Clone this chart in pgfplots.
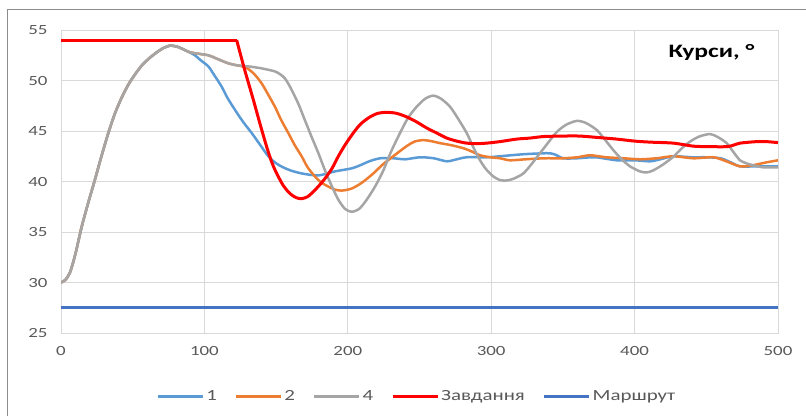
\documentclass[border=0pt]{standalone}
\usepackage{pgfplots}
\pgfplotsset{compat=1.18}
\usepackage{fontspec}
\setmainfont{Carlito}[FakeStretch=1.35]
\definecolor{cBlue}{HTML}{5B9BD5}
\definecolor{cOrange}{HTML}{ED7D31}
\definecolor{cGray}{HTML}{A5A5A5}
\definecolor{cRed}{HTML}{FF0000}
\definecolor{cRoute}{HTML}{4472C4}
\definecolor{gridgray}{HTML}{D9D9D9}
\definecolor{tickgray}{HTML}{595959}
\definecolor{framegray}{HTML}{8C8C8C}
\begin{document}
\begin{tikzpicture}
\useasboundingbox (0pt,0pt) rectangle (806pt,-416pt);
\draw[framegray, line width=1pt] (7.5pt,-416pt) -- (7.5pt,-9.5pt) -- (806pt,-9.5pt);
\begin{axis}[
  at={(61pt,-333pt)}, anchor=south west,
  scale only axis, width=717pt, height=303pt,
  xmin=0, xmax=500, ymin=25, ymax=55,
  xtick distance=100, ytick distance=5,
  grid=major,
  major grid style={gridgray, line width=1pt},
  axis line style={gridgray, line width=1pt},
  major tick length=0pt,
  /pgf/number format/assume math mode=true,
  tick label style={font=\fontsize{14}{16}\selectfont, text=tickgray},
  xticklabel style={yshift=-10pt},
  yticklabel style={xshift=-10pt},
  legend columns=-1,
  legend style={draw=none, fill=none, at={(0.4965,-0.21)}, anchor=center,
    font=\fontsize{15.5}{17}\selectfont, text=tickgray,
    nodes={inner sep=2pt},
    /tikz/every even column/.append style={column sep=16pt}},
  legend image code/.code={\draw[#1] (0pt,0pt) -- (45pt,0pt);},
  every axis plot/.append style={smooth, tension=0.45, line width=2.5pt, line join=round},
]
\addplot[cBlue] coordinates {
(0,30) (3,30.25) (6.3,31.0) (10,32.8) (14.4,35.5) (19,37.9) (23.7,40.2) (28,42.4) (33,44.8) (37.5,46.7) (42.3,48.3) (47,49.6) (51.6,50.6) (57,51.6) (63.2,52.4) (70,53.1) (76,53.45) (82,53.3) (88.8,52.85)
(93.4,52.5) (97,52.05) (102.7,51.4) (107,50.5) (112,49.4) (116,48.3) (121.3,47.1) (127,45.9) (133,44.8) (139,43.6) (144.6,42.5) (150,41.8) (155,41.4) (160,41.1) (167.8,40.8) (179.4,40.6) (191,41.0) (202.7,41.3) (208.5,41.6) (215,42.0) (222.5,42.3) (231.8,42.3) (240,42.2) (250.3,42.4) (260,42.3) (269,42.0) (276,42.2) (282.9,42.4) (296.9,42.4) (306.1,42.5) (322.4,42.7) (338.7,42.8) (344,42.7) (350.3,42.3) (360,42.3) (372.6,42.4) (387.5,42.1) (400,42.1) (410.7,42.0) (418,42.2) (427,42.5) (440,42.4) (450.2,42.4) (460,42.3) (467,41.9) (473.5,41.5) (485,41.5) (500,41.5)
};
\addlegendentry{1}
\addplot[cOrange] coordinates {
(0,30) (3,30.25) (6.3,31.0) (10,32.8) (14.4,35.5) (19,37.9) (23.7,40.2) (28,42.4) (33,44.8) (37.5,46.7) (42.3,48.3) (47,49.6) (51.6,50.6) (57,51.6) (63.2,52.4) (70,53.1) (76,53.45) (82,53.3) (88.8,52.85)
(93.4,52.7) (102.7,52.5) (108,52.2) (116.7,51.7) (123,51.5) (128,51.35) (131,51.1) (135,50.6) (140,49.7) (144.5,48.6) (149.2,47.4) (153.5,46.1) (158.5,44.8) (163,43.6) (167.8,42.5) (172,41.4) (177.1,40.5) (181.5,39.9) (186.4,39.5) (191,39.2) (195.7,39.1) (202.7,39.3) (210,39.9) (217.8,40.8) (224.5,41.7) (231.7,42.5) (241,43.5) (246.5,43.95) (252.6,44.1) (258,44.0) (264.3,43.8) (272,43.6) (280.5,43.3) (286,43.0) (292.2,42.6) (299.2,42.4) (306.1,42.3) (313.1,42.1) (324,42.2) (336.9,42.3) (350,42.3) (360,42.4) (368.9,42.6) (380,42.4) (392.6,42.3) (403.8,42.2) (415.4,42.3) (427,42.5) (441,42.3) (455,42.4) (464,42.0) (473.5,41.5) (482,41.6) (492.1,41.9) (500,42.1)
};
\addlegendentry{2}
\addplot[cGray] coordinates {
(0,30) (3,30.25) (6.3,31.0) (10,32.8) (14.4,35.5) (19,37.9) (23.7,40.2) (28,42.4) (33,44.8) (37.5,46.7) (42.3,48.3) (47,49.6) (51.6,50.6) (57,51.6) (63.2,52.4) (70,53.1) (76,53.45) (82,53.3) (88.8,52.85)
(93.4,52.7) (102.7,52.5) (108,52.2) (116.7,51.7) (123,51.5) (130.6,51.4) (140,51.2) (149.2,50.9) (153,50.6) (156.2,50.2) (160,49.3) (165.5,47.7) (170,46.1) (174.8,44.4) (179.5,42.8) (184.1,41.1) (189,39.5) (193.4,38.2) (198,37.3) (202.7,37.0) (208,37.3) (213.2,38.2) (219,39.5) (224.8,41.1) (230,42.9) (236.4,44.8) (242,46.3) (248,47.4) (254,48.2) (259.6,48.5) (265,48.2) (271.3,47.4) (277,46.2) (282.9,44.8) (287.5,43.4) (292.2,42.1) (296.5,41.2) (301.5,40.5) (306,40.15) (310.8,40.1) (316,40.3) (322.4,40.8) (328,41.7) (334,42.8) (340,43.9) (345.7,44.9) (352,45.6) (359.6,46.0) (366,45.8) (373.6,45.1) (379,44.2) (385.2,43.1) (391,42.2) (396.8,41.5) (403.8,41.0) (408.4,40.9) (413,41.1) (420,41.7) (427,42.45) (433,43.3) (438.6,43.95) (445,44.45) (452.6,44.7) (458,44.4) (464.2,43.8) (469,42.9) (473.5,42.1) (478,41.8) (482.8,41.6) (490,41.4) (500,41.4)
};
\addlegendentry{4}
\addplot[cRed, line width=3pt, sharp plot, forget plot] coordinates {(0,54) (122.5,54)};
\addplot[cRed, line width=3pt] coordinates {
(122.5,54) (128,51.1) (134.1,48.1) (139,45.6) (143.4,43.45) (147,41.9) (150.4,40.8) (155,39.6) (159.7,38.8) (164,38.4) (167.8,38.3) (172,38.5) (176,39.0) (180,39.6) (184.1,40.3) (189,41.3) (193.4,42.5) (198,43.6) (203.8,44.8) (209,45.7) (215.5,46.4) (221,46.75) (227.1,46.85) (234,46.75) (241,46.4) (248,45.9) (255,45.3) (262,44.8) (269,44.3) (276,44.0) (282.9,43.8) (290,43.75) (296.9,43.8) (306.1,43.95) (317.8,44.2) (327,44.3) (336.3,44.45) (350,44.5) (361.9,44.5) (375,44.35) (387.5,44.2) (400,44.0) (410.7,43.9) (427,43.8) (441,43.5) (452,43.45) (464.2,43.45) (469,43.6) (473.5,43.8) (485.1,43.95) (492,43.95) (500,43.85)
};
\addlegendentry{Завдання}
\addplot[cRoute, line width=2.75pt] coordinates {(0,27.5) (250,27.5) (500,27.5)};
\addlegendentry{Маршрут}
\node[anchor=base, font=\fontsize{19}{22}\selectfont\bfseries, text=black] at (axis cs:453.6,52.23) {Курси, °};
\end{axis}
\end{tikzpicture}
\end{document}
